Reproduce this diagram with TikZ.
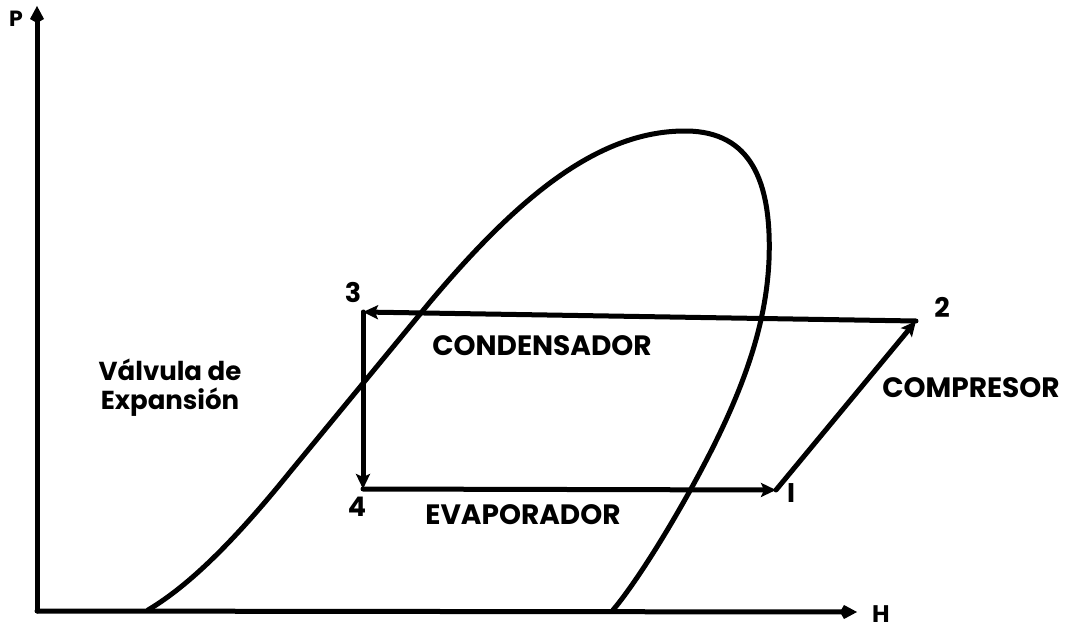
\documentclass[tikz,border=0pt]{standalone}
\usepackage{fontspec}
\setmainfont{Poppins}
\usetikzlibrary{arrows.meta}
\begin{document}
\begin{tikzpicture}[x=1pt,y=-1pt,
  ln/.style={line width=5pt,line cap=round,line join=round},
  axarrow/.style={ln,-{Kite[length=17pt,width=14pt,inset=4pt]}},
  cyc/.style={ln,-{Stealth[length=15pt,width=14pt,inset=3pt]}},
  lbl/.style={font=\bfseries\fontsize{28}{30}\selectfont,inner sep=0pt},
  num/.style={font=\bfseries\fontsize{27}{30}\selectfont,inner sep=0pt}]
\useasboundingbox (0,0) rectangle (1070,634);
% axes
\coordinate (O) at (37,611);
\coordinate (Ytop) at (37,6);
\coordinate (Xend) at (857,612);
\draw[axarrow] (O) -- (Ytop);
\draw[axarrow] (O) -- (Xend);
\node[lbl,font=\bfseries\fontsize{22}{24}\selectfont] (P) at (16,19) {P};
\node[lbl,font=\bfseries\fontsize{24}{24}\selectfont] (H) at (881,614) {H};
% dome
\draw[ln] (148,610) .. controls (190,585) and (235,540) .. (290,472)
  -- (430,302)
  .. controls (520,195) and (600,130) .. (687,131)
  .. controls (750,132) and (772,180) .. (769,260)
  .. controls (766,330) and (740,400) .. (692,487)
  .. controls (660,545) and (630,590) .. (613,610);
% cycle points
\coordinate (c3) at (363,312);
\coordinate (c2) at (916,321);
\coordinate (c4) at (363,489);
\coordinate (c1) at (776,490);
\draw[cyc] (c2) -- (c3);
\draw[cyc] (c3) -- (c4);
\draw[cyc] (c4) -- (c1);
\draw[cyc] (c1) -- (c2);
% labels
\node[num] (n3) at (353,292) {3};
\node[num] (n2) at (942,307) {2};
\node[num] (n4) at (357,507) {4};
\node[num] (n1) at (791,493) {I};
\node[lbl] (cond) at (542,346) {CONDENSADOR};
\node[lbl] (evap) at (523,515) {EVAPORADOR};
\node[lbl] (comp) at (971,388) {COMPRESOR};
\node[lbl,align=center,font=\bfseries\fontsize{26}{29}\selectfont] (valv) at (170,388) {Válvula de\\Expansión};
\end{tikzpicture}
\end{document}
